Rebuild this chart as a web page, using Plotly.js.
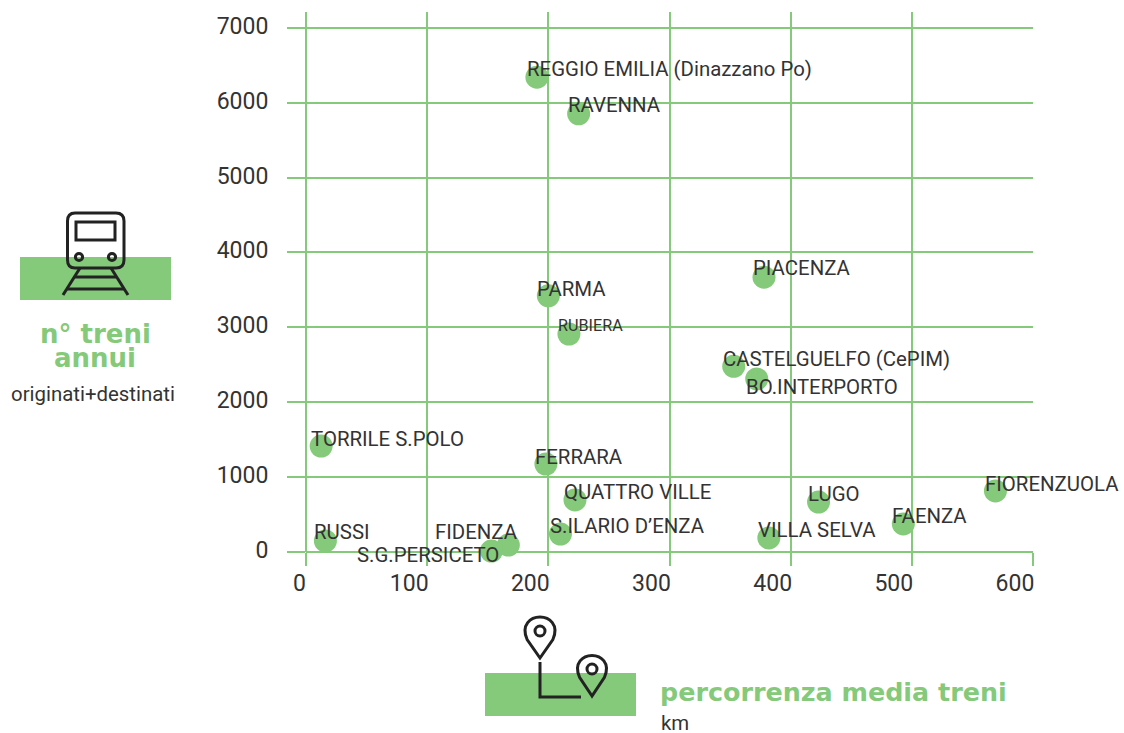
<!DOCTYPE html>
<html><head><meta charset="utf-8">
<script src="https://cdn.plot.ly/plotly-3.0.1.min.js"></script>
<style>html,body{margin:0;padding:0;background:#fff}</style></head>
<body><div id="chart" style="width:1124px;height:733px"></div>
<script>
const stations = ["REGGIO EMILIA (Dinazzano Po)","RAVENNA","PIACENZA","PARMA","RUBIERA","CASTELGUELFO (CePIM)","BO.INTERPORTO","TORRILE S.POLO","FERRARA","QUATTRO VILLE","LUGO","FIORENZUOLA","FAENZA","VILLA SELVA","S.ILARIO D’ENZA","FIDENZA","S.G.PERSICETO","RUSSI"];
const kmMedia = [190.6,225,378,200,217,353,372,12.5,198,222,423,569,493,382,210,167,153,16];
const treniAnnui = [6340,5850,3670,3420,2910,2480,2310,1415,1175,695,667,815,374,187,240,93,13,147];
const xTicks = [0,100,200,300,400,500,600];
const xTickText = ["\u00a0\u00a0\u00a0\u00a00","100","200","300","400","500","600"];
const yTicks = [0,1000,2000,3000,4000,5000,6000,7000];
const labelDx = [-12,-13,-13,-13,-13,-13,-13,-12,-13,-13,-13,-12,-13,-13,-12,-75,-136,-13];
const labelDy = [8,9,9,7,9,7,-8,7,7,8,8,7,8,8,8,13,-4,9];
const labelSize = [20.4,20.4,20.4,20.4,16.2,20.4,20.4,20.4,20.4,20.4,20.4,20.4,20.4,20.4,20.4,20.4,20.4,20.4];

const GREEN = "#85C97A", INK = "#222222", TXT = "#333333", FONT = "Roboto, 'Noto Sans', sans-serif", HEAVY = "'DejaVu Sans', sans-serif";
const L=306,R=1033,T=12,B=552;
const fx=x=>(x-L)/(R-L), fy=y=>(B-y)/(B-T);
function pth(d){let i=0;return d.replace(/-?\d+(\.\d+)?/g,n=>(i++%2===0)?fx(+n).toFixed(5):fy(+n).toFixed(5));}
const rect=(x0,y0,x1,y1,fill)=>({type:"rect",xref:"paper",yref:"paper",x0:fx(x0),x1:fx(x1),y0:fy(y1),y1:fy(y0),fillcolor:fill,line:{width:0},layer:"above"});
const line=d=>({type:"path",xref:"paper",yref:"paper",path:pth(d),line:{color:INK,width:3},layer:"above"});
const circ=(cx,cy,r)=>({type:"circle",xref:"paper",yref:"paper",x0:fx(cx-r),x1:fx(cx+r),y0:fy(cy+r),y1:fy(cy-r),line:{color:INK,width:3},layer:"above"});
const pin=(cx,cy,r,tip)=>line(`M ${cx} ${tip} L ${cx-r*0.86} ${cy+r*0.5} C ${cx-r*1.3} ${cy-r*0.5} ${cx-r*0.6} ${cy-r} ${cx} ${cy-r} C ${cx+r*0.6} ${cy-r} ${cx+r*1.3} ${cy-r*0.5} ${cx+r*0.86} ${cy+r*0.5} Z`);
const shapes=[
 rect(20,257,171,300,GREEN), rect(485,673,636,716,GREEN),
 line("M 75 213 L 116 213 Q 124 213 124 221 L 124 260 Q 124 268 116 268 L 75 268 Q 67.5 268 67.5 260 L 67.5 221 Q 67.5 213 75 213 Z"),
 line("M 76 222 L 115 222 L 115 240 L 76 240 Z"),
 circ(79,257,3.6),circ(112,257,3.6),
 line("M 80 268 L 63 295"),line("M 111 268 L 128 295"),
 line("M 74 277 L 117 277"),line("M 66 289 L 124 289"),
 pin(540,632,15,658),circ(540,631,5),
 pin(592,670,14.5,696),circ(592,669,5),
 line("M 540 662 L 540 697 L 581 697")
];
const ptxt=(t,x,y,size,color,anchor,bold)=>({text:bold?`<b>${t}</b>`:t,xref:"paper",yref:"paper",x:fx(x),y:fy(y),xanchor:anchor,yanchor:"middle",showarrow:false,font:{family:bold?HEAVY:FONT,size:size,color:color}});
const annotations=stations.map((s,i)=>({text:s,x:kmMedia[i],y:treniAnnui[i],xref:"x",yref:"y",xanchor:"left",yanchor:"middle",showarrow:false,xshift:labelDx[i],yshift:labelDy[i],font:{family:FONT,size:labelSize[i],color:TXT}})).concat([
 ptxt("n° treni",95,334,26,GREEN,"center",true),
 ptxt("annui",95,358,26,GREEN,"center",true),
 ptxt("originati+destinati",93,394,20.4,TXT,"center",false),
 ptxt("percorrenza media treni",658,692,25.4,GREEN,"left",true),
 ptxt("km",659,723,20.4,TXT,"left",false)
]);
const layout={
 width:1124,height:733,margin:{l:L,r:1124-R,t:T,b:733-B,pad:0},
 paper_bgcolor:"#fff",plot_bgcolor:"#fff",showlegend:false,
 xaxis:{range:[0,600],tickvals:xTicks,ticktext:xTickText,ticks:"outside",ticklen:13,tickwidth:2,tickcolor:GREEN,
  gridcolor:GREEN,gridwidth:2,showline:false,zeroline:true,zerolinecolor:GREEN,zerolinewidth:2,ticklabelshift:-18,ticklabelstandoff:-3,tickfont:{family:FONT,size:23,color:TXT}},
 yaxis:{range:[0,7210],tickvals:yTicks,ticktext:yTicks.map(String),ticks:"outside",ticklen:18,tickwidth:2,tickcolor:GREEN,
  gridcolor:GREEN,gridwidth:2,showline:false,zeroline:true,zerolinecolor:GREEN,zerolinewidth:2,ticklabelstandoff:14,ticklabelshift:-2,tickfont:{family:FONT,size:23,color:TXT}},
 shapes,annotations
};
Plotly.newPlot("chart",[{type:"scatter",mode:"markers",x:kmMedia,y:treniAnnui,text:stations,cliponaxis:false,marker:{size:23,color:GREEN,line:{width:0}},hoverinfo:"text"}],layout,{displayModeBar:false,staticPlot:true});
</script></body></html>
